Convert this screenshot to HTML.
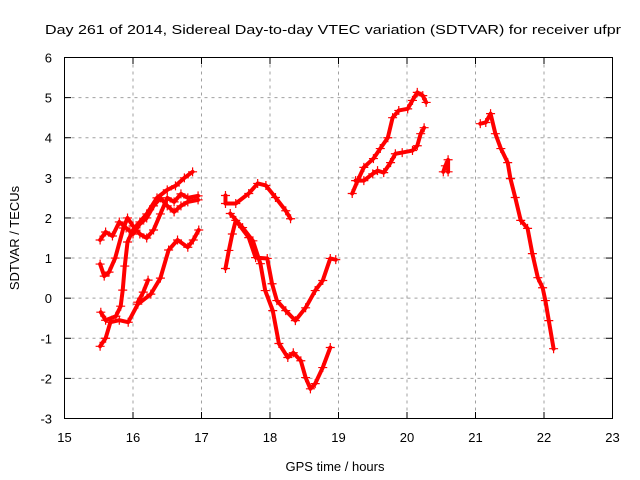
<!DOCTYPE html>
<html><head><meta charset="utf-8"><style>
body{margin:0;background:#fff}
svg{display:block;font-family:"Liberation Sans",sans-serif}
</style></head><body>
<svg id="chart" width="640" height="480" viewBox="0 0 640 480">
<rect width="640" height="480" fill="#fff"/>
<text x="333" y="34" text-anchor="middle" font-size="13" textLength="576" lengthAdjust="spacingAndGlyphs">Day 261 of 2014, Sidereal Day-to-day VTEC variation (SDTVAR) for receiver ufpr</text>
<text transform="translate(19,238) rotate(-90)" text-anchor="middle" font-size="13">SDTVAR / TECUs</text>
<text x="335" y="471" text-anchor="middle" font-size="13">GPS time / hours</text>
<g id="grid"></g><g id="ticks"></g><g id="series"></g>
<rect x="64.5" y="57.5" width="548" height="361" fill="none" stroke="#000" stroke-width="1"/>
</svg>
<script>
const xTicks=[15,16,17,18,19,20,21,22,23];
const yTicks=[-3,-2,-1,0,1,2,3,4,5,6];
const s1=[[15.52,-1.2],[15.6,-1.0],[15.67,-0.6],[15.8,-0.55],[15.93,-0.6],[16.07,-0.15],[16.26,0.1],[16.4,0.5],[16.52,1.2],[16.65,1.45],[16.8,1.27],[16.88,1.45],[16.96,1.7]];
const s2=[[15.53,-0.35],[15.6,-0.55],[15.75,-0.45],[15.82,-0.2],[15.85,0.2],[15.88,0.8],[15.92,1.4],[16.0,1.7],[16.1,1.9],[16.2,2.1],[16.35,2.5],[16.5,2.7],[16.62,2.8],[16.75,3.0],[16.87,3.15]];
const s3=[[15.52,0.85],[15.58,0.55],[15.65,0.65],[15.74,1.0],[15.86,1.75],[15.92,2.0],[16.0,1.8],[16.1,1.6],[16.2,1.5],[16.3,1.7],[16.4,2.1],[16.5,2.5],[16.6,2.4],[16.7,2.6],[16.8,2.5],[16.95,2.55]];
const s4=[[15.52,1.45],[15.6,1.65],[15.7,1.55],[15.8,1.9],[15.9,1.75],[16.0,1.6],[16.1,1.85],[16.2,2.0],[16.3,2.3],[16.4,2.5],[16.5,2.3],[16.6,2.15],[16.7,2.3],[16.8,2.4],[16.95,2.45]];
const s5=[[16.07,-0.1],[16.15,0.15],[16.22,0.45]];
const m1=[[17.35,2.56],[17.35,2.36],[17.5,2.36],[17.69,2.61],[17.82,2.86],[17.94,2.81],[18.08,2.51],[18.23,2.18],[18.3,1.98]];
const m2=[[17.35,0.74],[17.4,1.19],[17.45,1.6],[17.5,1.94],[17.69,1.51],[17.79,1.01],[17.96,0.99],[18.03,0.36],[18.1,-0.06],[18.23,-0.31],[18.37,-0.56],[18.52,-0.24],[18.66,0.19],[18.77,0.44],[18.88,0.99],[18.96,0.96]];
const m3=[[17.42,2.11],[17.6,1.76],[17.75,1.43],[17.86,0.86],[17.93,0.19],[18.04,-0.31],[18.13,-1.13],[18.26,-1.48],[18.34,-1.36],[18.45,-1.56],[18.52,-1.98],[18.59,-2.26],[18.66,-2.13],[18.77,-1.73],[18.88,-1.23]];
const r1=[[19.2,2.61],[19.28,2.93],[19.37,3.26],[19.51,3.48],[19.61,3.73],[19.72,4.0],[19.79,4.5],[19.88,4.68],[20.01,4.72],[20.08,4.93],[20.15,5.13],[20.23,5.05],[20.28,4.88]];
const r2=[[19.25,2.93],[19.37,2.93],[19.5,3.1],[19.57,3.18],[19.66,3.13],[19.76,3.38],[19.83,3.6],[19.93,3.63],[20.08,3.68],[20.15,3.8],[20.2,4.1],[20.25,4.25]];
const r3=[[20.53,3.15],[20.56,3.3],[20.6,3.45],[20.6,3.15]];
const r4=[[21.07,4.35],[21.15,4.38],[21.22,4.6],[21.29,4.1],[21.37,3.73],[21.47,3.38],[21.51,2.98],[21.58,2.51],[21.66,1.94],[21.76,1.74],[21.83,1.11],[21.91,0.51],[21.98,0.26],[22.02,-0.06],[22.07,-0.56],[22.14,-1.26]];
const allSeries=[s1,s2,s3,s4,s5,m1,m2,m3,r1,r2,r3,r4];
const X=v=>64.5+(v-15)*548/8, Y=v=>418.5-(v+3)*361/9;
const NS='http://www.w3.org/2000/svg';
function mk(t,a,p){const e=document.createElementNS(NS,t);for(const k in a)e.setAttribute(k,a[k]);p.appendChild(e);return e;}
const grid=document.getElementById('grid'),ticks=document.getElementById('ticks'),ser=document.getElementById('series');
xTicks.forEach(v=>{
  if(v>15&&v<23){const g=mk('line',{x1:X(v),x2:X(v),y1:57.5,y2:418.5,stroke:'#a0a0a0','stroke-dasharray':'3,4'},grid);
  
  }
  mk('line',{x1:X(v),x2:X(v),y1:418.5,y2:412,stroke:'#000'},ticks);
  mk('line',{x1:X(v),x2:X(v),y1:57.5,y2:64,stroke:'#000'},ticks);
  const t=mk('text',{x:X(v),y:442,'text-anchor':'middle','font-size':'13'},ticks);t.textContent=v;
  
  
});
yTicks.forEach(v=>{
  if(v>-3&&v<6){const g=mk('line',{x1:64.5,x2:612.5,y1:Y(v),y2:Y(v),stroke:'#a0a0a0','stroke-dasharray':'3,4'},grid);
  
  }
  mk('line',{x1:64.5,x2:71,y1:Y(v),y2:Y(v),stroke:'#000'},ticks);
  mk('line',{x1:612.5,x2:606,y1:Y(v),y2:Y(v),stroke:'#000'},ticks);
  const t=mk('text',{x:52,y:Y(v)+5,'text-anchor':'end','font-size':'13'},ticks);t.textContent=v;
  
  
});
allSeries.forEach((s,i)=>{
  const g=mk('g',{},ser);
  
  
  mk('polyline',{points:s.map(p=>X(p[0])+','+Y(p[1])).join(' '),fill:'none',stroke:'#f00','stroke-width':'4','stroke-linejoin':'round','stroke-linecap':'round'},g);
  s.forEach(p=>{
    const m=mk('path',{d:`M${X(p[0])-4.5},${Y(p[1])}h9M${X(p[0])},${Y(p[1])-4.5}v9`,stroke:'#f00','stroke-width':'1.2'},g);
    
    
  });
});
</script>
</body></html>
